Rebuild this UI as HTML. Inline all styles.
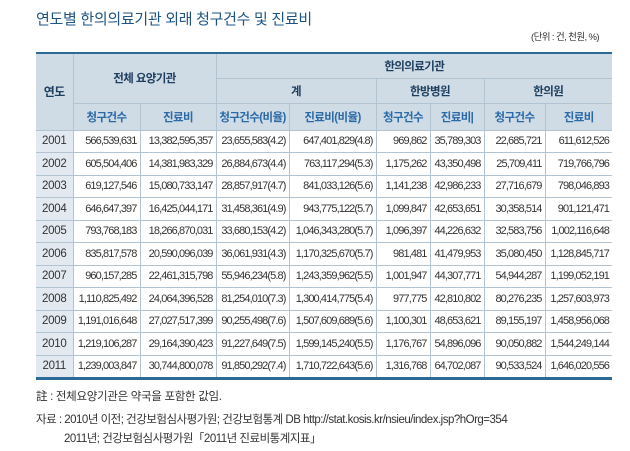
<!DOCTYPE html>
<html><head><meta charset="utf-8"><style>
body{margin:0;width:630px;height:451px;background:#fff;font-family:"Liberation Sans","Noto Sans CJK KR",sans-serif;position:relative;overflow:hidden}
.t{position:absolute;white-space:nowrap}
table{position:absolute;left:36px;top:52px;border-collapse:collapse;table-layout:fixed;width:576px;border-top:2px solid #2b6a96;border-bottom:3px solid #2b6a96}
td{border:1px solid #b2c3d2;padding:0;font-size:11px;color:#333;text-align:right;padding-right:3px;height:21.5px;letter-spacing:-0.9px;white-space:nowrap;overflow:hidden}
tr:first-child td{border-top:none}
td:first-child{border-left:none;text-align:center;padding:0;background:#e2e9f0;letter-spacing:-0.3px;font-size:11.5px}
td:last-child{border-right:none}
.h td{background:#cfdbe5;text-align:center;padding:0;font-weight:bold;color:#1d3e5e;font-size:11.5px;letter-spacing:-0.6px}
.h td.b{color:#2a6aa8}
</style></head><body>
<div class="t" style="left:36px;top:8px;font-size:15px;color:#1e5585;letter-spacing:-0.3px">연도별 한의의료기관 외래 청구건수 및 진료비</div>
<div class="t" style="left:531px;top:29px;font-size:9.5px;color:#333;letter-spacing:-0.6px">(단위 : 건, 천원, %)</div>
<table>
<colgroup><col style="width:37px"><col style="width:67px"><col style="width:76px"><col style="width:73px"><col style="width:87px"><col style="width:54px"><col style="width:54px"><col style="width:61px"><col style="width:67px"></colgroup>
<tr class="h" style="height:25px"><td rowspan="3" style="background:#cfdbe5;font-size:12px">연도</td><td colspan="2" rowspan="2">전체 요양기관</td><td colspan="6">한의의료기관</td></tr>
<tr class="h" style="height:25px"><td colspan="2">계</td><td colspan="2">한방병원</td><td colspan="2">한의원</td></tr>
<tr class="h" style="height:27px"><td class="b">청구건수</td><td class="b">진료비</td><td class="b">청구건수(비율)</td><td class="b">진료비(비율)</td><td class="b">청구건수</td><td class="b">진료비|</td><td class="b">청구건수</td><td class="b">진료비</td></tr>
<tr><td>2001</td><td>566,539,631</td><td>13,382,595,357</td><td>23,655,583(4.2)</td><td>647,401,829(4.8)</td><td>969,862</td><td>35,789,303</td><td>22,685,721</td><td>611,612,526</td></tr>
<tr><td>2002</td><td>605,504,406</td><td>14,381,983,329</td><td>26,884,673(4.4)</td><td>763,117,294(5.3)</td><td>1,175,262</td><td>43,350,498</td><td>25,709,411</td><td>719,766,796</td></tr>
<tr><td>2003</td><td>619,127,546</td><td>15,080,733,147</td><td>28,857,917(4.7)</td><td>841,033,126(5.6)</td><td>1,141,238</td><td>42,986,233</td><td>27,716,679</td><td>798,046,893</td></tr>
<tr><td>2004</td><td>646,647,397</td><td>16,425,044,171</td><td>31,458,361(4.9)</td><td>943,775,122(5.7)</td><td>1,099,847</td><td>42,653,651</td><td>30,358,514</td><td>901,121,471</td></tr>
<tr><td>2005</td><td>793,768,183</td><td>18,266,870,031</td><td>33,680,153(4.2)</td><td>1,046,343,280(5.7)</td><td>1,096,397</td><td>44,226,632</td><td>32,583,756</td><td>1,002,116,648</td></tr>
<tr><td>2006</td><td>835,817,578</td><td>20,590,096,039</td><td>36,061,931(4.3)</td><td>1,170,325,670(5.7)</td><td>981,481</td><td>41,479,953</td><td>35,080,450</td><td>1,128,845,717</td></tr>
<tr><td>2007</td><td>960,157,285</td><td>22,461,315,798</td><td>55,946,234(5.8)</td><td>1,243,359,962(5.5)</td><td>1,001,947</td><td>44,307,771</td><td>54,944,287</td><td>1,199,052,191</td></tr>
<tr><td>2008</td><td>1,110,825,492</td><td>24,064,396,528</td><td>81,254,010(7.3)</td><td>1,300,414,775(5.4)</td><td>977,775</td><td>42,810,802</td><td>80,276,235</td><td>1,257,603,973</td></tr>
<tr><td>2009</td><td>1,191,016,648</td><td>27,027,517,399</td><td>90,255,498(7.6)</td><td>1,507,609,689(5.6)</td><td>1,100,301</td><td>48,653,621</td><td>89,155,197</td><td>1,458,956,068</td></tr>
<tr><td>2010</td><td>1,219,106,287</td><td>29,164,390,423</td><td>91,227,649(7.5)</td><td>1,599,145,240(5.5)</td><td>1,176,767</td><td>54,896,096</td><td>90,050,882</td><td>1,544,249,144</td></tr>
<tr><td>2011</td><td>1,239,003,847</td><td>30,744,800,078</td><td>91,850,292(7.4)</td><td>1,710,722,643(5.6)</td><td>1,316,768</td><td>64,702,087</td><td>90,533,524</td><td>1,646,020,556</td></tr>
</table>
<div class="t" style="left:36px;top:388px;font-size:11.5px;color:#333;letter-spacing:-0.3px">註 : 전체요양기관은 약국을 포함한 값임.</div>
<div class="t" style="left:36px;top:411px;font-size:11.5px;color:#333;letter-spacing:-0.5px">자료 : 2010년 이전; 건강보험심사평가원; 건강보험통계 DB http://stat.kosis.kr/nsieu/index.jsp?hOrg=354</div>
<div class="t" style="left:64px;top:430px;font-size:11.5px;color:#333;letter-spacing:-0.5px">2011년; 건강보험심사평가원「2011년 진료비통계지표」</div>
</body></html>
